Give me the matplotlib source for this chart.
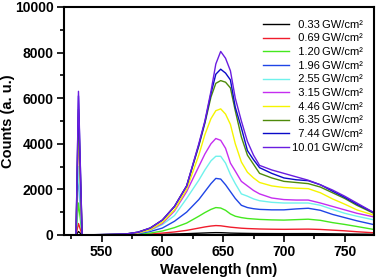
import matplotlib
matplotlib.use("Agg")
import matplotlib.pyplot as plt
from matplotlib.ticker import MultipleLocator

plt.rcParams['font.family'] = ['Liberation Sans', 'DejaVu Sans']

wavelength = [520, 529, 531, 534, 550, 570, 580, 590, 600, 610, 620, 630, 635, 640, 644, 648,
              652, 656, 660, 665, 670, 675, 680, 690, 700, 710, 720, 730, 740, 750, 760, 775]

powers = ["0.33", "0.69", "1.20", "1.96", "2.55", "3.15", "4.46", "6.35", "7.44", "10.01"]
labels = [p.rjust(5, "\u2007") + "\u2009GW/cm\u00b2" for p in powers]
colors = ["#000000", "#f01c2c", "#44e81e", "#1f45e6", "#6ff2ec", "#c52df0", "#f5f500", "#4e8a0a",
          "#0a0ac8", "#6a1de0"]

s033 = [0, 0, 150, 0, 2, 5, 10, 15, 25, 40, 55, 75, 85, 95, 100, 98,
        90, 80, 75, 70, 66, 62, 60, 58, 56, 57, 58, 54, 48, 42, 36, 28]
s069 = [0, 0, 500, 0, 5, 10, 20, 40, 80, 130, 200, 300, 350, 390, 410, 400,
        370, 340, 320, 295, 280, 270, 260, 250, 245, 250, 255, 240, 210, 180, 140, 90]
s120 = [0, 0, 1400, 0, 10, 20, 40, 80, 170, 320, 520, 820, 980, 1120, 1200, 1180,
        1080, 920, 820, 760, 720, 700, 680, 660, 650, 670, 690, 640, 540, 460, 370, 230]
s196 = [0, 0, 2800, 0, 10, 20, 60, 150, 300, 600, 1000, 1550, 1900, 2250, 2480, 2450,
        2200, 1900, 1600, 1300, 1200, 1150, 1120, 1100, 1100, 1140, 1170, 1080, 900, 760, 620, 440]
s255 = [0, 0, 3000, 0, 10, 25, 80, 200, 450, 850, 1600, 2400, 2850, 3250, 3450, 3450,
        3150, 2650, 2250, 1800, 1700, 1580, 1500, 1430, 1400, 1400, 1400, 1300, 1120, 950, 820, 650]
s315 = [0, 0, 4500, 0, 10, 30, 90, 220, 500, 1050, 1900, 3000, 3550, 4000, 4230, 4150,
        3800, 3150, 2800, 2350, 2150, 1950, 1800, 1620, 1550, 1530, 1530, 1400, 1250, 1100, 950, 780]
s446 = [0, 0, 5000, 0, 10, 30, 90, 230, 550, 1100, 2000, 3500, 4400, 5100, 5450, 5530,
        5300, 4850, 4000, 3200, 2750, 2500, 2300, 2150, 2080, 2050, 2030, 1850, 1580, 1350, 1100, 850]
s635 = [0, 0, 5500, 0, 15, 40, 120, 300, 650, 1250, 2150, 3900, 4900, 6050, 6650, 6770,
        6700, 6450, 5450, 4300, 3500, 3100, 2700, 2500, 2350, 2300, 2250, 2100, 1850, 1600, 1300, 920]
s744 = [0, 0, 6100, 0, 15, 40, 120, 300, 650, 1250, 2150, 3950, 4950, 6200, 7050, 7270,
        7100, 6800, 5600, 4700, 3700, 3300, 2950, 2700, 2500, 2420, 2380, 2200, 1920, 1650, 1350, 950]
s1001 = [0, 0, 6300, 0, 15, 40, 120, 300, 650, 1250, 2150, 4000, 5000, 6300, 7500, 8050,
         7750, 7200, 6000, 5000, 4100, 3500, 3050, 2850, 2700, 2550, 2400, 2200, 1970, 1700, 1400, 950]

series = [s033, s069, s120, s196, s255, s315, s446, s635, s744, s1001]

fig = plt.figure(figsize=(3.78, 2.79), dpi=100)
ax = fig.add_axes([0.169, 0.158, 0.820, 0.817])

for vals, c, lab in zip(series, colors, labels):
    ax.plot(wavelength, vals, color=c, lw=1.0, label=lab)

ax.set_xlim(519, 774)
ax.set_ylim(0, 10000)
ax.xaxis.set_major_locator(MultipleLocator(50))
ax.xaxis.set_minor_locator(MultipleLocator(25))
ax.yaxis.set_major_locator(MultipleLocator(2000))
ax.yaxis.set_minor_locator(MultipleLocator(1000))
ax.tick_params(which='both', direction='out', top=False, right=False, width=1.2)
ax.tick_params(which='major', length=5, labelsize=10, pad=2.5)
ax.tick_params(which='minor', length=3)
for lbl in ax.get_xticklabels() + ax.get_yticklabels():
    lbl.set_fontweight('bold')
for sp in ax.spines.values():
    sp.set_linewidth(1.5)

ax.set_xlabel("Wavelength (nm)", fontsize=10.5, fontweight='bold')
ax.set_ylabel("Counts (a. u.)", fontsize=10.5, fontweight='bold')
ax.yaxis.set_label_coords(-0.158, 0.5)
ax.xaxis.set_label_coords(0.5, -0.123)

leg = ax.legend(loc='upper right', frameon=False, fontsize=8, handlelength=2.35,
                handletextpad=0.3, labelspacing=0.33, borderaxespad=0.55,
                bbox_to_anchor=(1.0, 0.99))

fig.savefig("out.png", dpi=100)
